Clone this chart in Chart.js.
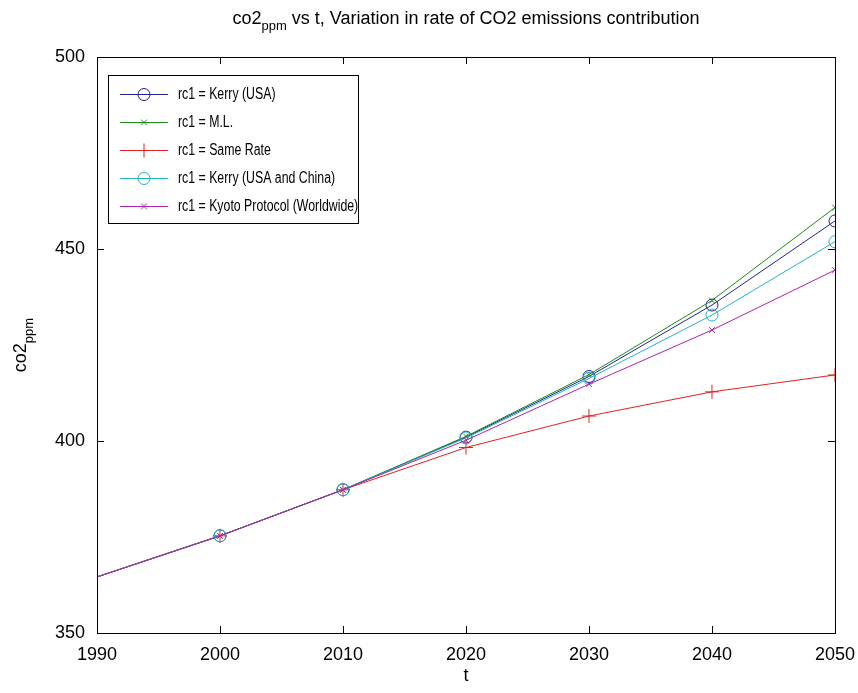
<!DOCTYPE html>
<html>
<head>
<meta charset="utf-8">
<script src="https://cdn.jsdelivr.net/npm/chart.js@4.4.0/dist/chart.umd.min.js"></script>
<style>
  html, body { margin: 0; padding: 0; background: #fff; }
  #wrap { width: 858px; height: 693px; }
</style>
</head>
<body>
<div id="wrap"><canvas id="co2Chart" width="858" height="693"></canvas></div>
<script>
var years = [1990, 2000, 2010, 2020, 2030, 2040, 2050];
var kerryUSA = [364.6, 375.3, 387.3, 401.0, 416.8, 435.4, 457.3];
var ml = [364.6, 375.3, 387.3, 401.2, 417.3, 436.6, 460.8];
var sameRate = [364.6, 375.3, 387.3, 398.3, 406.5, 412.8, 417.2];
var kerryChina = [364.6, 375.3, 387.3, 400.8, 416.3, 432.8, 451.9];
var kyoto = [364.6, 375.3, 387.3, 400.2, 414.8, 428.9, 444.5];
var xTicks = [1990, 2000, 2010, 2020, 2030, 2040, 2050];
var yTicks = [350, 400, 450, 500];

var fam = '"Liberation Sans", Arial, sans-serif';

function pts(vals) {
  return years.map(function(y, i) { return {x: y, y: vals[i]}; });
}
function radii(r) {
  // no marker on the first (1990) point
  return years.map(function(y, i) { return i === 0 ? 0 : r; });
}
function series(label, vals, color, style, r, ord) {
  return {
    label: label,
    data: pts(vals),
    borderColor: color,
    backgroundColor: 'rgba(0,0,0,0)',
    pointBorderColor: color,
    pointBackgroundColor: 'rgba(0,0,0,0)',
    pointStyle: style,
    pointRadius: radii(r),
    pointBorderWidth: 1,
    borderWidth: 1,
    tension: 0,
    order: ord
  };
}

var datasets = [
  series('rc1 = Kerry (USA)', kerryUSA, '#22229a', 'circle', 6, 4),
  series('rc1 = M.L.', ml, '#1c8a1c', 'crossRot', 4, 3),
  series('rc1 = Same Rate', sameRate, '#e02222', 'cross', 7, 2),
  series('rc1 = Kerry (USA and China)', kerryChina, '#22b4bc', 'circle', 6, 1),
  series('rc1 = Kyoto Protocol (Worldwide)', kyoto, '#b022b0', 'crossRot', 4, 0)
];

// squeezed text, the matlab fonts are narrower than liberation
function narrowText(ctx, txt, x, y, sx) {
  ctx.save();
  ctx.translate(x, y);
  ctx.scale(sx, 1);
  ctx.fillText(txt, 0, 0);
  ctx.restore();
}

// matlab-ish frame, inward ticks, legend and labels with subscripts
var matlabPlugin = {
  id: 'matlab',
  afterDatasetsDraw: function(chart) {
    var ctx = chart.ctx, a = chart.chartArea;
    var xs = chart.scales.x, ys = chart.scales.y;
    ctx.save();
    ctx.strokeStyle = '#000';
    ctx.lineWidth = 1;
    ctx.strokeRect(a.left + 0.5, a.top + 0.5, a.right - a.left, a.bottom - a.top);
    ctx.beginPath();
    xTicks.forEach(function(v) {
      var px = Math.round(xs.getPixelForValue(v)) + 0.5;
      ctx.moveTo(px, a.bottom); ctx.lineTo(px, a.bottom - 7);
      ctx.moveTo(px, a.top); ctx.lineTo(px, a.top + 7);
    });
    yTicks.forEach(function(v) {
      var py = Math.round(ys.getPixelForValue(v)) + 0.5;
      ctx.moveTo(a.left, py); ctx.lineTo(a.left + 7, py);
      ctx.moveTo(a.right, py); ctx.lineTo(a.right - 7, py);
    });
    ctx.stroke();

    // legend box
    var lx = 108, ly = 75, lw = 250, lh = 148, rowH = 28;
    ctx.fillStyle = '#fff';
    ctx.fillRect(lx, ly, lw, lh);
    ctx.strokeRect(lx + 0.5, ly + 0.5, lw, lh);
    ctx.textBaseline = 'middle';
    ctx.textAlign = 'left';
    chart.data.datasets.forEach(function(ds, i) {
      var cy = ly + 19 + i * rowH;
      ctx.strokeStyle = ds.borderColor;
      ctx.beginPath();
      ctx.moveTo(lx + 12, cy + 0.5); ctx.lineTo(lx + 60, cy + 0.5);
      ctx.stroke();
      ctx.fillStyle = 'rgba(0,0,0,0)';
      Chart.helpers.drawPoint(ctx, {
        pointStyle: ds.pointStyle, radius: ds.pointRadius[1], borderWidth: 1, rotation: 0
      }, lx + 36, cy + 0.5);
      ctx.fillStyle = '#000';
      ctx.font = '16px ' + fam;
      narrowText(ctx, ds.label, lx + 70, cy + 1, 0.77);
    });

    // title with subscript
    ctx.fillStyle = '#000';
    var mainFont = '18px ' + fam, subFont = '13px ' + fam;
    ctx.font = mainFont;
    var p1 = 'co2', sub = 'ppm', p2 = ' vs t, Variation in rate of CO2 emissions contribution';
    var w1 = ctx.measureText(p1).width, w3 = ctx.measureText(p2).width;
    ctx.font = subFont;
    var w2 = ctx.measureText(sub).width;
    var tx = (a.left + a.right) / 2 - (w1 + w2 + w3) / 2, ty = 19;
    ctx.textBaseline = 'alphabetic';
    ctx.font = mainFont; ctx.fillText(p1, tx, ty + 5);
    ctx.font = subFont; ctx.fillText(sub, tx + w1, ty + 11);
    ctx.font = mainFont; ctx.fillText(p2, tx + w1 + w2, ty + 5);

    // x label
    ctx.textAlign = 'center';
    ctx.fillText('t', (a.left + a.right) / 2, 681);

    // y label rotated
    ctx.save();
    ctx.translate(26, (a.top + a.bottom) / 2);
    ctx.rotate(-Math.PI / 2);
    ctx.font = mainFont;
    var yw1 = ctx.measureText('co2').width;
    ctx.font = subFont;
    var yw2 = ctx.measureText('ppm').width;
    ctx.textAlign = 'left';
    ctx.font = mainFont; ctx.fillText('co2', -(yw1 + yw2) / 2, 0);
    ctx.font = subFont; ctx.fillText('ppm', -(yw1 + yw2) / 2 + yw1, 7);
    ctx.restore();
    ctx.restore();
  }
};

new Chart(document.getElementById('co2Chart'), {
  type: 'line',
  data: { datasets: datasets },
  plugins: [matlabPlugin],
  options: {
    responsive: false,
    animation: false,
    layout: { padding: { top: 57, right: 20, left: 0, bottom: 0 } },
    plugins: { legend: { display: false }, title: { display: false }, tooltip: { enabled: false } },
    scales: {
      x: {
        type: 'linear', min: 1990, max: 2050,
        afterFit: function(s) { s.height = 60; },
        afterBuildTicks: function(s) { s.ticks = xTicks.map(function(v) { return {value: v}; }); },
        grid: { display: false },
        border: { display: false },
        ticks: { color: '#000', font: { family: fam, size: 18 }, padding: 3,
                 maxRotation: 0, callback: function(v) { return String(v); } }
      },
      y: {
        min: 350, max: 500,
        afterFit: function(s) { s.width = 97; },
        afterBuildTicks: function(s) { s.ticks = yTicks.map(function(v) { return {value: v}; }); },
        grid: { display: false },
        border: { display: false },
        ticks: { color: '#000', font: { family: fam, size: 18 }, padding: 4 }
      }
    }
  }
});
</script>
</body>
</html>
